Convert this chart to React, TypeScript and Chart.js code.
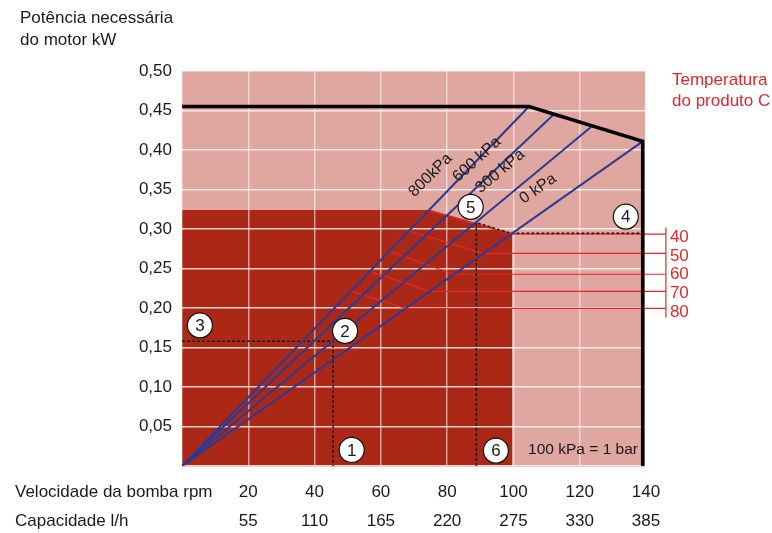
import React, { useEffect, useRef } from 'react';
import { Chart, registerables } from 'chart.js';

Chart.register(...registerables);

// ---------- data ----------
const rpmLabels = ['20', '40', '60', '80', '100', '120', '140'];
const capacityLabels = ['55', '110', '165', '220', '275', '330', '385'];
const xTickStep = 20;
const xMax = 140;
const yMax = 0.5;
const yTickStep = 0.05;

const axisTitleLines = ['Potência necessária', 'do motor kW'];
const rowTitles = ['Velocidade da bomba rpm', 'Capacidade l/h'];

// operating zone (dark area)
const zoneX = [0, 75, 99.6, 99.6];
const zoneY = [0.324, 0.324, 0.2945, 0];

// motor limit (black line)
const limitX = [0, 104.7, 139, 139];
const limitY = [0.455, 0.455, 0.411, 0];

// pressure lines (from origin)
const pressureLabels = ['800kPa', '600 kPa', '300 kPa', '0 kPa'];
const pressureEndX = [104.7, 111.9, 123.4, 139];
const pressureEndY = [0.455, 0.444, 0.429, 0.411];
const pressureLabelX = [75.0, 89.0, 96.0, 107.4];
const pressureLabelY = [0.368, 0.388, 0.373, 0.351];
const pressureLabelAngle = [-45, -42, -40, -35];

// product temperature lines
const tempTitle = ['Temperatura', 'do produto C'];
const tempLabels = ['40', '50', '60', '70', '80'];
const tempStartX = [74.8, 68.8, 63.0, 57.0, 51.2];
const tempStartY = [0.323, 0.297, 0.271, 0.246, 0.221];
const tempBendX = [99.4, 91.0, 82.0, 74.7, 67.4];
const tempLevel = [0.2935, 0.2692, 0.2427, 0.2211, 0.1996];
const tempScaleX = 146;
const tempBracketY = [0.302, 0.188];
const tempLabelY = [0.289, 0.265, 0.2427, 0.2186, 0.1946];

// worked examples (dashed)
const example1X = [0, 45.6, 45.6];
const example1Y = [0.158, 0.158, 0];
const example2X = [88.8, 88.8, 99.4, 139];
const example2Y = [0, 0.308, 0.2945, 0.2945];

// numbered markers
const markerNumbers = ['1', '2', '3', '4', '5', '6'];
const markerX = [51.2, 49.2, 5.4, 133.9, 87.1, 94.7];
const markerY = [0.0203, 0.171, 0.178, 0.3156, 0.328, 0.0194];

const noteText = '100 kPa = 1 bar';
const noteX = 121;
const noteY = 0.02;

// ---------- styles ----------
const FONT = "'Liberation Sans', Arial, sans-serif";
const PINK = '#e0a6a0';
const DARK = '#ac2816';
const BLUE = '#2c3a92';
const RED = '#e5262c';
const TEXT = '#1a1a1a';

const pts = (xs: number[], ys: number[]) => xs.map((x, i) => ({ x, y: ys[i] }));

export default function App() {
  const ref = useRef<HTMLCanvasElement>(null);

  useEffect(() => {
    const canvas = ref.current;
    if (!canvas) return;

    const datasets: any[] = [];
    datasets.push({
      label: 'zone',
      data: pts(zoneX, zoneY),
      fill: 'origin',
      backgroundColor: DARK,
      borderWidth: 0,
      pointRadius: 0,
      order: 10,
    });
    tempLabels.forEach((t, i) => {
      datasets.push({
        label: 'T' + t,
        data: pts([tempStartX[i], tempBendX[i], tempScaleX], [tempStartY[i], tempLevel[i], tempLevel[i]]),
        borderColor: RED,
        borderWidth: 1.2,
        pointRadius: 0,
        fill: false,
        clip: false,
        order: 4,
      });
    });
    datasets.push({
      label: 'bracket',
      data: pts([tempScaleX, tempScaleX], tempBracketY),
      borderColor: RED,
      borderWidth: 1.2,
      pointRadius: 0,
      fill: false,
      clip: false,
      order: 4,
    });
    datasets.push({
      label: 'ex1',
      data: pts(example1X, example1Y),
      borderColor: TEXT,
      borderWidth: 1.5,
      borderDash: [3, 2],
      pointRadius: 0,
      fill: false,
      order: 3,
    });
    datasets.push({
      label: 'ex2',
      data: pts(example2X, example2Y),
      borderColor: TEXT,
      borderWidth: 1.5,
      borderDash: [3, 2],
      pointRadius: 0,
      fill: false,
      order: 3,
    });
    pressureLabels.forEach((p, i) => {
      datasets.push({
        label: p,
        data: pts([0, pressureEndX[i]], [0, pressureEndY[i]]),
        borderColor: BLUE,
        borderWidth: 2,
        pointRadius: 0,
        fill: false,
        order: 2,
      });
    });
    datasets.push({
      label: 'limit',
      data: pts(limitX, limitY),
      borderColor: '#000',
      borderWidth: 3.5,
      borderJoinStyle: 'miter',
      pointRadius: 0,
      fill: false,
      order: 1,
    });

    const annotate = {
      id: 'annotate',
      beforeDatasetsDraw(chart: any) {
        const { ctx, chartArea: a } = chart;
        ctx.save();
        ctx.fillStyle = PINK;
        ctx.fillRect(a.left, a.top, a.right - a.left - 1, a.bottom - a.top + 1);
        ctx.restore();
      },
      afterDatasetDraw(chart: any, args: any) {
        if (args.index === 0) {
          chart.scales.x.drawGrid(chart.chartArea);
          chart.scales.y.drawGrid(chart.chartArea);
        }
      },
      afterDraw(chart: any) {
        const { ctx } = chart;
        const xs = chart.scales.x;
        const ys = chart.scales.y;
        ctx.save();
        ctx.textBaseline = 'middle';

        // axis title top-left
        ctx.fillStyle = TEXT;
        ctx.font = `17px ${FONT}`;
        ctx.textAlign = 'left';
        ctx.fillText(axisTitleLines[0], 20, 18);
        ctx.fillText(axisTitleLines[1], 20, 40);

        // row titles for x ticks
        ctx.fillText(rowTitles[0], 15, 492);
        ctx.fillText(rowTitles[1], 15, 521);

        // temperature title and labels
        ctx.fillStyle = RED;
        ctx.font = `17px ${FONT}`;
        const tx = chart.chartArea.right + 26;
        ctx.fillText(tempTitle[0], tx, 80);
        ctx.fillText(tempTitle[1], tx, 101);
        const lx = xs.getPixelForValue(tempScaleX) + 4;
        tempLabels.forEach((t, i) => {
          ctx.fillText(t, lx, ys.getPixelForValue(tempLabelY[i]));
        });

        // note
        ctx.fillStyle = TEXT;
        ctx.font = `15.5px ${FONT}`;
        ctx.textAlign = 'center';
        ctx.fillText(noteText, xs.getPixelForValue(noteX), ys.getPixelForValue(noteY));

        // pressure labels
        ctx.font = `16px ${FONT}`;
        pressureLabels.forEach((p, i) => {
          ctx.save();
          ctx.translate(xs.getPixelForValue(pressureLabelX[i]), ys.getPixelForValue(pressureLabelY[i]));
          ctx.rotate((pressureLabelAngle[i] * Math.PI) / 180);
          ctx.fillText(p, 0, 0);
          ctx.restore();
        });

        // numbered markers
        ctx.font = `17px ${FONT}`;
        markerNumbers.forEach((n, i) => {
          const cx = xs.getPixelForValue(markerX[i]);
          const cy = ys.getPixelForValue(markerY[i]);
          ctx.beginPath();
          ctx.arc(cx, cy, 12.5, 0, Math.PI * 2);
          ctx.fillStyle = '#fff';
          ctx.fill();
          ctx.lineWidth = 1.2;
          ctx.strokeStyle = '#111';
          ctx.stroke();
          ctx.fillStyle = TEXT;
          ctx.fillText(n, cx, cy + 1);
        });
        ctx.restore();
      },
    };

    const chart = new Chart(canvas, {
      type: 'line',
      data: { datasets },
      options: {
        responsive: false,
        animation: false,
        devicePixelRatio: 1,
        layout: { padding: { top: 71, right: 126, left: 0, bottom: 0 } },
        plugins: { legend: { display: false }, tooltip: { enabled: false } },
        elements: { line: { tension: 0 } },
        scales: {
          x: {
            type: 'linear',
            min: 0,
            max: xMax,
            border: { display: false },
            grid: { color: 'rgba(255,255,255,0.55)', lineWidth: 1.5, drawTicks: false },
            ticks: {
              stepSize: xTickStep,
              autoSkip: false,
              maxRotation: 0,
              padding: 12,
              color: TEXT,
              font: { family: FONT, size: 17, lineHeight: 29 / 17 },
              callback: (v: any) => {
                const i = Math.round(Number(v) / xTickStep) - 1;
                if (i < 0) return '';
                return [rpmLabels[i], capacityLabels[i]];
              },
            },
            afterFit: (s: any) => {
              s.height = 67;
            },
          },
          y: {
            type: 'linear',
            min: 0,
            max: yMax,
            border: { display: false },
            grid: { color: 'rgba(255,255,255,0.8)', lineWidth: 1.5, drawTicks: false },
            ticks: {
              stepSize: yTickStep,
              padding: 10,
              color: TEXT,
              font: { family: FONT, size: 17 },
              callback: (v: any) => {
                const n = Number(v);
                if (n < 1e-9) return '';
                return n.toFixed(2).replace('.', ',');
              },
            },
            afterFit: (s: any) => {
              s.width = 182;
            },
          },
        },
      },
      plugins: [annotate],
    } as any);

    return () => chart.destroy();
  }, []);

  return (
    <div style={{ position: 'fixed', left: 0, top: 0, width: 772, height: 533, background: '#fff' }}>
      <canvas ref={ref} width={772} height={533} style={{ display: 'block', width: 772, height: 533 }} />
    </div>
  );
}
